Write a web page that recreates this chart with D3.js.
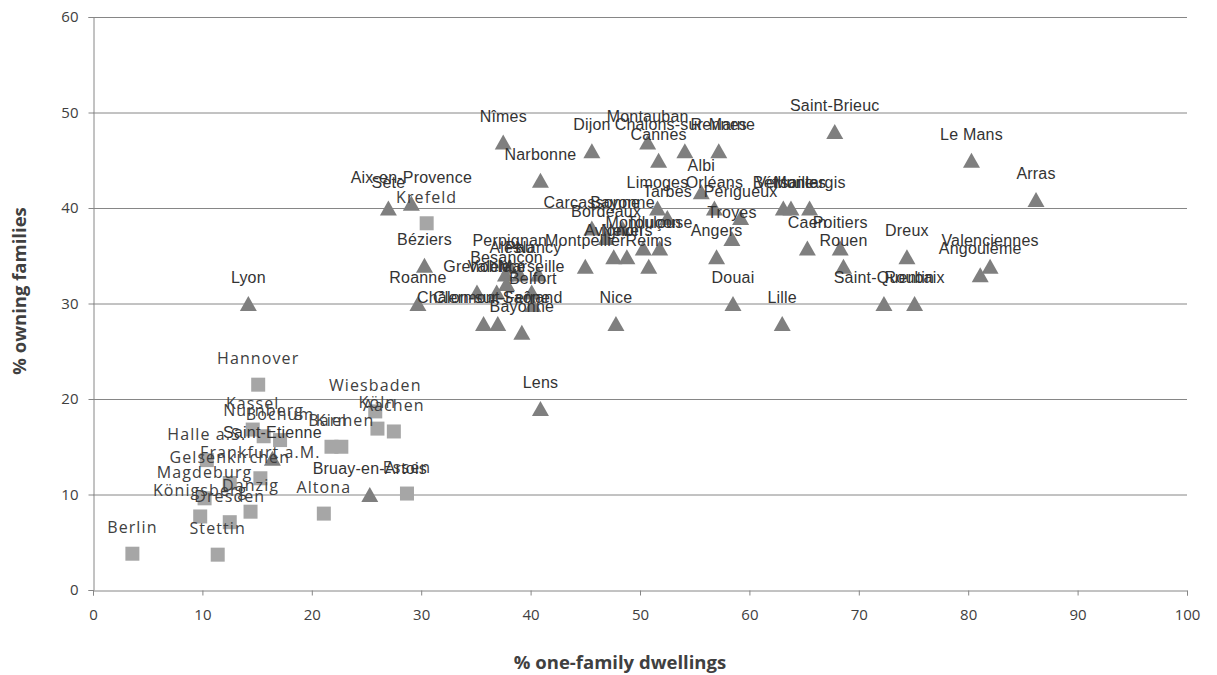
<!DOCTYPE html>
<html><head><meta charset="utf-8">
<script src="https://cdn.jsdelivr.net/npm/d3@7"></script>
<style>body{margin:0;background:#fff}</style>
</head><body><svg id="c" width="1217" height="675"></svg>
<script>
// French cities (triangles)
const frNames = ["Nîmes","Dijon","Montauban","Cannes","Chalons-sur-Marne","Rennes","Saint-Brieuc","Le Mans","Arras","Narbonne",
 "Aix-en-Provence","Sète","Béziers","Roanne","Lyon","Lens","Bruay-en-Artois","Nice","Douai","Lille",
 "Saint-Quentin","Roubaix","Dreux","Angoulême","Valenciennes","Poitiers","Rouen","Caen","Béthune","Versailles",
 "Montargis","Albi","Limoges","Orléans","Tarbes","Périgueux","Troyes","Angers","Montluçon","Toulouse",
 "Avignon","Nevers","Montpellier","Reims","Bordeaux","Carcassonne","Bayonne","Perpignan","Alès","Pau",
 "Nancy","Besançon","Grenoble","Valence","Marseille","Belfort","Châlon-sur-Saône","Clermont-Ferrand","Bayonne","Saint-Etienne"];
const frX = [37.5,45.6,50.7,51.7,54.1,57.2,67.8,80.3,86.2,40.9,
 29.1,27.0,30.3,29.7,14.2,40.9,25.3,47.8,58.5,63.0,
 72.3,75.1,74.4,81.1,82.0,68.3,68.6,65.3,63.1,63.8,
 65.5,55.6,51.6,56.8,52.5,59.2,58.4,57.0,50.3,51.8,
 47.6,48.8,45.0,50.8,46.9,45.6,48.4,38.1,37.7,39.0,
 40.7,37.8,35.1,36.9,40.1,40.2,35.7,37.0,39.2,16.4];
const frY = [46.9,46.0,46.9,45.0,46.0,46.0,48.0,45.0,40.9,42.9,
 40.5,40.0,34.0,30.0,30.0,19.0,10.0,27.9,30.0,27.9,
 30.0,30.0,34.9,33.0,33.9,35.8,33.9,35.8,40.0,40.0,
 40.0,41.7,40.0,40.0,39.0,39.0,36.8,34.9,35.8,35.8,
 34.9,34.9,33.9,33.9,36.9,37.9,37.9,33.9,33.1,33.1,
 33.1,32.1,31.2,31.2,31.2,29.9,27.9,27.9,27.0,13.8];

// German cities (squares)
const deNames = ["Hannover","Wiesbaden","Köln","Aachen","Kiel","Barmen","Kassel","Nürnberg","Bochum","Halle a.S.",
 "Frankfurt a.M.","Gelsenkirchen","Magdeburg","Danzig","Königsberg","Dresden","Stettin","Essen","Altona","Berlin","Krefeld"];
const deX = [15.1,25.8,26.0,27.5,21.8,22.7,14.6,15.6,17.1,10.4,
 15.3,12.5,10.2,14.4,9.8,12.5,11.4,28.7,21.1,3.6,30.5];
const deY = [21.5,18.7,16.9,16.6,15.0,15.0,16.8,16.1,15.7,13.6,
 11.7,11.2,9.6,8.2,7.7,7.1,3.7,10.1,8.0,3.8,38.4];

const xTicks = [0,10,20,30,40,50,60,70,80,90,100];
const yTicks = [0,10,20,30,40,50,60];
const xTitle = "% one-family dwellings";
const yTitle = "% owning families";

const svg = d3.select("#c");
const L = 93, R = 1187, T = 17, B = 590;
const x = d3.scaleLinear().domain([0,100]).range([L,R]);
const y = d3.scaleLinear().domain([0,60]).range([B,T]);

// gridlines
svg.append("g").selectAll("line").data(yTicks.filter(d=>d>0)).join("line")
  .attr("x1",L).attr("x2",R).attr("y1",d=>y(d)+0.5).attr("y2",d=>y(d)+0.5)
  .attr("stroke","#868686").attr("stroke-width",1);

// axes
const xa = svg.append("g").attr("transform",`translate(0,${B+0.5})`)
  .call(d3.axisBottom(x).tickValues(xTicks).tickSize(5).tickPadding(14));
const ya = svg.append("g").attr("transform",`translate(${L+0.5},0)`)
  .call(d3.axisLeft(y).tickValues(yTicks).tickSize(5).tickPadding(10));
[xa,ya].forEach(a=>{
  a.select(".domain").attr("stroke","#868686");
  a.selectAll(".tick line").attr("stroke","#868686");
  a.selectAll("text").attr("font-family","'Open Sans', sans-serif").attr("font-size",15).attr("fill","#404040");
});

svg.append("text").attr("x",620).attr("y",669).attr("text-anchor","middle")
  .attr("font-family","'Open Sans', sans-serif").attr("font-weight","bold").attr("font-size",18.5).attr("fill","#404040").text(xTitle);
svg.append("text").attr("transform","translate(26,291) rotate(-90)").attr("text-anchor","middle")
  .attr("font-family","'Open Sans', sans-serif").attr("font-weight","bold").attr("font-size",18.5).attr("fill","#404040").text(yTitle);

const de = deNames.map((n,i)=>({n,x:deX[i],y:deY[i]}));
const fr = frNames.map((n,i)=>({n,x:frX[i],y:frY[i]}));

// markers
svg.append("g").selectAll("rect").data(de).join("rect")
  .attr("x",d=>x(d.x)-7).attr("y",d=>y(d.y)-7).attr("width",14).attr("height",14).attr("fill","#A6A6A6");
const tri = "M0,-7.5L8.5,7.5L-8.5,7.5Z";
svg.append("g").selectAll("path").data(fr).join("path")
  .attr("transform",d=>`translate(${x(d.x)},${y(d.y)})`).attr("d",tri).attr("fill","#7F7F7F");

// labels
svg.append("g").selectAll("text").data(de).join("text")
  .attr("x",d=>x(d.x)).attr("y",d=>y(d.y)-20.5).attr("text-anchor","middle")
  .attr("font-family","'Open Sans', sans-serif").attr("font-size",16).attr("letter-spacing",1.1).attr("fill","#404040").text(d=>d.n);
svg.append("g").selectAll("text").data(fr).join("text")
  .attr("x",d=>x(d.x)).attr("y",d=>y(d.y)-20.5).attr("text-anchor","middle")
  .attr("font-family","'Liberation Sans', Arial, sans-serif").attr("font-size",16).attr("letter-spacing",0.2).attr("fill","#333").text(d=>d.n);
</script></body></html>
